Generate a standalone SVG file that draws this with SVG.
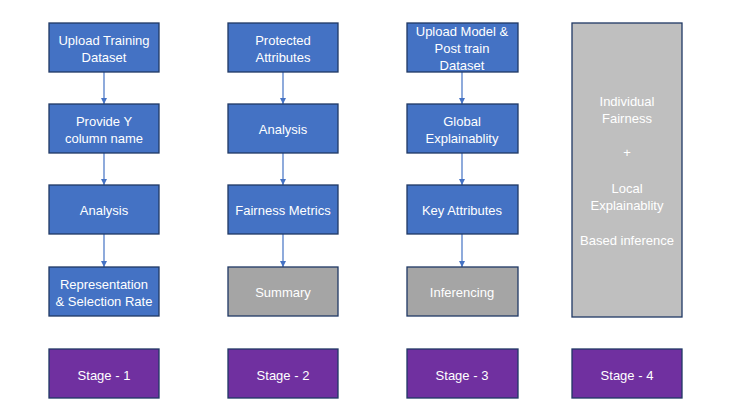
<svg xmlns="http://www.w3.org/2000/svg" width="730" height="417" viewBox="0 0 730 417">
<defs>
<style>
.box{stroke:#1F3864;stroke-width:1.3}
.blue{fill:#4472C4}
.gray{fill:#A5A5A5}
.lgray{fill:#BFBFBF}
.purple{fill:#7030A0}
text{font-family:"Liberation Sans",Arial,sans-serif;font-size:13px;fill:#FFFFFF;text-anchor:middle;dominant-baseline:central}
.conn{stroke:#4472C4;stroke-width:1.2;fill:none;marker-end:url(#ah)}
</style>
<marker id="ah" viewBox="0 0 10 10" refX="10" refY="5" markerWidth="6" markerHeight="6" orient="auto" markerUnits="userSpaceOnUse">
<path d="M0,0 L10,5 L0,10 z" fill="#4472C4"/>
</marker>
</defs>
<rect width="730" height="417" fill="#FFFFFF"/>
<g id="connectors">
<line class="conn" x1="104" y1="72" x2="104" y2="104"/>
<line class="conn" x1="104" y1="153" x2="104" y2="185"/>
<line class="conn" x1="104" y1="234" x2="104" y2="267"/>
<line class="conn" x1="283" y1="72" x2="283" y2="104"/>
<line class="conn" x1="283" y1="153" x2="283" y2="185"/>
<line class="conn" x1="283" y1="234" x2="283" y2="267"/>
<line class="conn" x1="462" y1="72" x2="462" y2="104"/>
<line class="conn" x1="462" y1="153" x2="462" y2="185"/>
<line class="conn" x1="462" y1="234" x2="462" y2="267"/>
</g>
<g id="upload-training">
<rect class="box blue" x="49" y="23" width="110" height="49"/>
<text x="104" y="40">Upload Training</text>
<text x="104" y="57">Dataset</text>
</g>
<g id="provide-y">
<rect class="box blue" x="49" y="104" width="110" height="49"/>
<text x="104" y="121">Provide Y</text>
<text x="104" y="138">column name</text>
</g>
<g id="analysis-1">
<rect class="box blue" x="49" y="185" width="110" height="49"/>
<text x="104" y="210">Analysis</text>
</g>
<g id="representation">
<rect class="box blue" x="49" y="267" width="110" height="49"/>
<text x="104" y="284">Representation</text>
<text x="104" y="301">&amp; Selection Rate</text>
</g>
<g id="protected">
<rect class="box blue" x="228" y="23" width="110" height="49"/>
<text x="283" y="40">Protected</text>
<text x="283" y="57">Attributes</text>
</g>
<g id="analysis-2">
<rect class="box blue" x="228" y="104" width="110" height="49"/>
<text x="283" y="129">Analysis</text>
</g>
<g id="fairness-metrics">
<rect class="box blue" x="228" y="185" width="110" height="49"/>
<text x="283" y="210">Fairness Metrics</text>
</g>
<g id="summary">
<rect class="box gray" x="228" y="267" width="110" height="49"/>
<text x="283" y="292">Summary</text>
</g>
<g id="upload-model">
<rect class="box blue" x="407" y="23" width="111" height="49"/>
<text x="462" y="31">Upload Model &amp;</text>
<text x="462" y="48">Post train</text>
<text x="462" y="65">Dataset</text>
</g>
<g id="global-explain">
<rect class="box blue" x="407" y="104" width="111" height="49"/>
<text x="462" y="121">Global</text>
<text x="462" y="138">Explainablity</text>
</g>
<g id="key-attributes">
<rect class="box blue" x="407" y="185" width="111" height="49"/>
<text x="462" y="210">Key Attributes</text>
</g>
<g id="inferencing">
<rect class="box gray" x="407" y="267" width="111" height="49"/>
<text x="462" y="292">Inferencing</text>
</g>
<g id="individual-fairness">
<rect class="box lgray" x="572" y="23" width="110" height="294"/>
<text x="627" y="101">Individual</text>
<text x="627" y="118">Fairness</text>
<text x="627" y="152">+</text>
<text x="627" y="188">Local</text>
<text x="627" y="205">Explainablity</text>
<text x="627" y="240">Based inference</text>
</g>
<g id="stage-1">
<rect class="box purple" x="49" y="349" width="110" height="49"/>
<text x="104" y="375">Stage - 1</text>
</g>
<g id="stage-2">
<rect class="box purple" x="228" y="349" width="110" height="49"/>
<text x="283" y="375">Stage - 2</text>
</g>
<g id="stage-3">
<rect class="box purple" x="407" y="349" width="111" height="49"/>
<text x="462" y="375">Stage - 3</text>
</g>
<g id="stage-4">
<rect class="box purple" x="572" y="349" width="110" height="49"/>
<text x="627" y="375">Stage - 4</text>
</g>
</svg>
